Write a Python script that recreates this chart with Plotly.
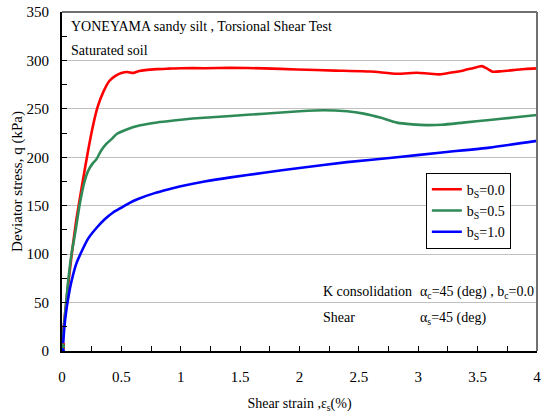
import plotly.graph_objects as go

# Shear strain (%) and deviator stress q (kPa) for each b_s value
strain_b00 = [0.0, 0.01, 0.04, 0.08, 0.12, 0.17, 0.22, 0.26, 0.30, 0.35, 0.40, 0.45, 0.50, 0.55,
              0.60, 0.65, 0.70, 0.80, 0.90, 1.00, 1.20, 1.42, 1.70, 1.98, 2.30, 2.60, 2.82,
              2.99, 3.08, 3.18, 3.28, 3.38, 3.46, 3.535, 3.58, 3.63, 3.70, 3.80, 3.90, 4.0]
q_b00 = [5, 20, 55, 98, 135, 172, 207, 232, 252, 268, 279, 284, 287, 288,
         287, 289, 290, 291, 291.5, 292, 292, 292.4, 291.8, 290.7, 289.5, 288.5, 286.2,
         287.3, 286.5, 285.6, 287.5, 289.7, 292, 294.1, 291.5, 288.3, 288.8, 290, 291.2, 291.8]

strain_b05 = [0.0, 0.02, 0.05, 0.08, 0.11, 0.15, 0.19, 0.22, 0.26, 0.29, 0.33, 0.375, 0.42,
              0.46, 0.55, 0.66, 0.80, 0.94, 1.10, 1.42, 1.70, 2.00, 2.20, 2.40, 2.54, 2.68,
              2.82, 2.95, 3.07, 3.20, 3.38, 3.60, 3.80, 4.0]
q_b05 = [5, 30, 70, 100, 121, 152, 175, 186, 194, 198, 207, 214, 219,
         224, 229, 233, 236, 238, 240, 242.7, 245, 247.5, 248.6, 247.5, 245.1, 241,
         235.8, 234, 233.2, 233.6, 235.8, 238.5, 241, 243.7]

strain_b10 = [0.0, 0.01, 0.02, 0.04, 0.06, 0.08, 0.12, 0.17, 0.22, 0.29, 0.36, 0.43, 0.50,
              0.57, 0.64, 0.78, 0.90, 1.00, 1.20, 1.42, 1.70, 2.00, 2.40, 2.82, 3.20,
              3.60, 4.0]
q_b10 = [0, 8, 25, 45, 60, 72, 90, 104, 116, 127, 136, 143, 148,
         153, 157, 163, 167, 170, 175, 179.3, 184, 189, 195, 200, 205,
         210, 217]

series = [
    ("b<sub>S</sub>=0.0", strain_b00, q_b00, "#ff0000", "square"),
    ("b<sub>S</sub>=0.5", strain_b05, q_b05, "#2e8b57", "circle"),
    ("b<sub>S</sub>=1.0", strain_b10, q_b10, "#0000ff", "circle"),
]

x_ticks = [0, 0.5, 1, 1.5, 2, 2.5, 3, 3.5, 4]
x_tick_text = ["0", "0.5", "1", "1.5", "2", "2.5", "3", "3.5", "4"]
y_ticks = [0, 50, 100, 150, 200, 250, 300, 350]

FONT = "Liberation Serif"

fig = go.Figure()
for name, xs, ys, color, sym in series:
    fig.add_trace(go.Scatter(x=xs, y=ys, mode="lines", name=name,
                             line=dict(color=color, width=2.6, shape="spline", smoothing=0.5)))
# start-point markers
for name, xs, ys, color, sym in series:
    fig.add_trace(go.Scatter(x=xs[:1], y=ys[:1], mode="markers", showlegend=False,
                             marker=dict(size=6, symbol=sym, color=color)))

fig.update_layout(
    width=548, height=418,
    margin=dict(l=62, r=11, t=12, b=67, autoexpand=False),
    paper_bgcolor="white", plot_bgcolor="white",
    font=dict(family=FONT, size=14, color="black"),
    showlegend=True,
    legend=dict(x=0.766, y=0.526, xanchor="left", yanchor="top",
                bgcolor="white", bordercolor="black", borderwidth=1,
                font=dict(family=FONT, size=14), itemwidth=30,
                tracegroupgap=0, traceorder="normal"),
    xaxis=dict(range=[0, 4], tickvals=x_ticks, ticktext=x_tick_text, automargin=False,
               showline=True, linecolor="black", linewidth=2, mirror=False,
               ticks="inside", ticklen=5, tickcolor="black", tickwidth=1,
               minor=dict(dtick=0.25, ticks="inside", ticklen=5, tickcolor="black"),
               showgrid=False, zeroline=False, ticklabelstandoff=11,
               tickfont=dict(family=FONT, size=15),
               title=dict(text="Shear strain ,ε<sub>s</sub>(%)", standoff=14,
                          font=dict(family=FONT, size=14))),
    yaxis=dict(range=[0, 350], tickvals=y_ticks, automargin=False,
               showline=True, linecolor="black", linewidth=2, mirror=False,
               ticks="inside", ticklen=5, tickcolor="black", tickwidth=1,
               minor=dict(dtick=25, ticks="inside", ticklen=5, tickcolor="black", showgrid=False),
               showgrid=True, gridcolor="#c0c0c0", gridwidth=1, zeroline=False,
               ticklabelstandoff=8, tickfont=dict(family=FONT, size=15),
               title=dict(text="Deviator stress, q (kPa)", standoff=0,
                          font=dict(family=FONT, size=15))),
)

# Top and right frame edges
fig.add_shape(type="line", xref="paper", yref="paper", x0=0, x1=1, y0=1, y1=1,
              line=dict(color="#707070", width=2))
fig.add_shape(type="line", xref="paper", yref="paper", x0=1, x1=1, y0=0, y1=1,
              line=dict(color="#707070", width=2))

notes = [
    (0.015, 0.985, "YONEYAMA sandy silt , Torsional Shear Test"),
    (0.015, 0.915, "Saturated soil"),
    (0.545, 0.205, "K consolidation"),
    (0.749, 0.205, "α<sub>c</sub>=45 (deg) , b<sub>c</sub>=0.0"),
    (0.545, 0.128, "Shear"),
    (0.749, 0.128, "α<sub>s</sub>=45 (deg)"),
]
for xp, yp, txt in notes:
    fig.add_annotation(x=xp, y=yp, xref="paper", yref="paper", text=txt,
                       showarrow=False, xanchor="left", yanchor="top",
                       font=dict(family=FONT, size=14, color="black"))

fig.write_html("out.html")
